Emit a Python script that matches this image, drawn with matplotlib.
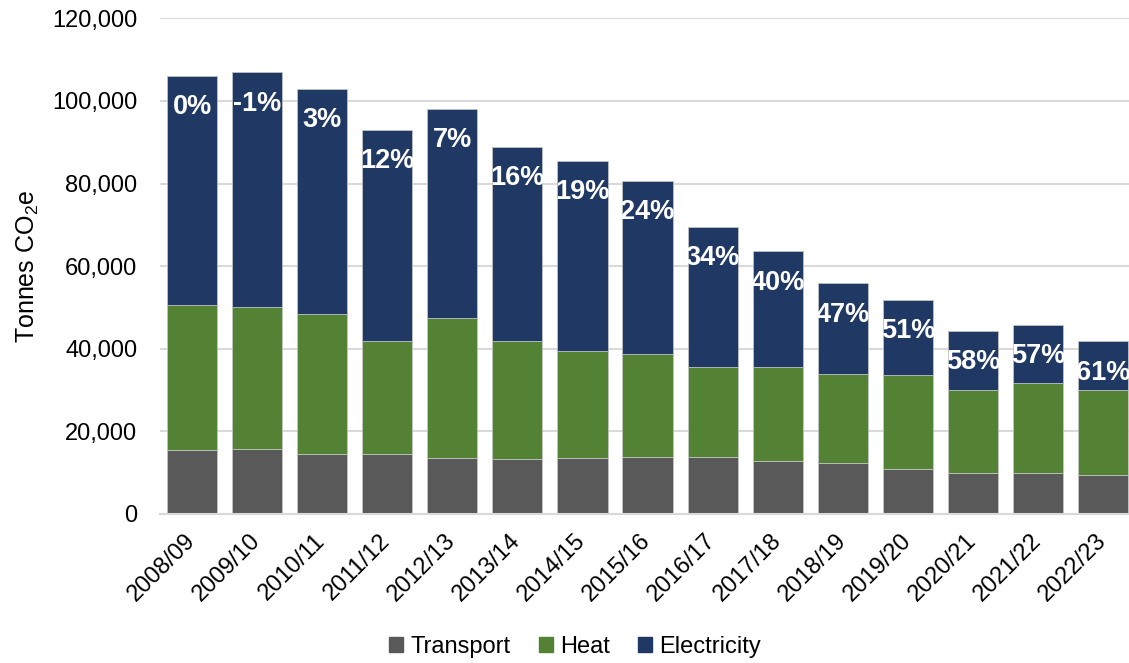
import matplotlib
matplotlib.use("Agg")
import matplotlib.pyplot as plt
from matplotlib.patches import Patch

plt.rcParams["font.family"] = ["Liberation Sans", "DejaVu Sans"]
plt.rcParams["mathtext.fontset"] = "custom"
plt.rcParams["mathtext.rm"] = "Liberation Sans"
plt.rcParams["mathtext.it"] = "Liberation Sans"
plt.rcParams["mathtext.default"] = "rm"

years = ["2008/09", "2009/10", "2010/11", "2011/12", "2012/13", "2013/14", "2014/15",
         "2015/16", "2016/17", "2017/18", "2018/19", "2019/20", "2020/21", "2021/22", "2022/23"]
# tonnes CO2e
transport = [15500, 15700, 14500, 14500, 13600, 13300, 13500, 13800, 13900, 12900,
             12300, 10900, 9900, 9900, 9400]
heat = [35000, 34500, 33800, 27500, 33800, 28700, 25900, 25000, 21800, 22800,
        21600, 22700, 20100, 21700, 20700]
electricity = [55600, 56700, 54600, 51000, 50600, 46900, 46000, 41800, 33800, 27900,
               21900, 18200, 14400, 14100, 11700]
reduction = ["0%", "-1%", "3%", "12%", "7%", "16%", "19%", "24%", "34%", "40%",
             "47%", "51%", "58%", "57%", "61%"]

c_transport = "#595959"
c_heat = "#548235"
c_elec = "#203864"
grid_c = "#d9d9d9"

W, H = 1129, 663
fig = plt.figure(figsize=(W / 100, H / 100), dpi=100)
# axes deliberately runs off the right edge, like the source image
ax = fig.add_axes([159.5 / W, (H - 514) / H, (W - 159.5) / W, (514 - 18.3) / H])

x = range(len(years))
bw = 0.77
edge = dict(edgecolor="#c8c8c8", linewidth=0.5)
ax.bar(x, transport, bw, color=c_transport, **edge)
base = [t + h for t, h in zip(transport, heat)]
ax.bar(x, heat, bw, bottom=transport, color=c_heat, **edge)
ax.bar(x, electricity, bw, bottom=base, color=c_elec, **edge)

totals = [b + e for b, e in zip(base, electricity)]
for i, (tot, lab) in enumerate(zip(totals, reduction)):
    ax.annotate(lab, xy=(i, tot), xytext=(0, -22.5), textcoords="offset points",
                ha="center", va="center", color="white", fontsize=19.5, fontweight="bold",
                annotation_clip=False)

ax.set_xlim(-0.5, -0.5 + (W - 159.5) / 65.07)
ax.set_ylim(0, 120000)
ax.set_yticks(range(0, 120001, 20000))
ax.set_yticklabels([f"{v:,}" for v in range(0, 120001, 20000)])
ax.set_xticks(list(x))
ax.set_xticklabels(years, rotation=45, ha="right", va="center", rotation_mode="anchor")
ax.tick_params(axis="both", length=0, labelsize=17, colors="black")
ax.tick_params(axis="y", pad=16)
ax.tick_params(axis="x", pad=17)

ax.grid(axis="y", color=grid_c, linewidth=1.5)
ax.set_axisbelow(True)
for s in ["top", "right", "left"]:
    ax.spines[s].set_visible(False)
ax.spines["bottom"].set_color(grid_c)
ax.spines["bottom"].set_linewidth(1.5)

ax.set_ylabel("Tonnes CO$_2$e", fontsize=18, labelpad=8)

handles = [Patch(color=c_transport), Patch(color=c_heat), Patch(color=c_elec)]
fig.legend(handles, ["Transport", "Heat", "Electricity"], loc="center",
           bbox_to_anchor=(575 / W, 16 / H), ncol=3, frameon=False, fontsize=17,
           handlelength=0.6, handleheight=0.6, handletextpad=0.3, columnspacing=1.2)

fig.savefig("out.png", dpi=100)
